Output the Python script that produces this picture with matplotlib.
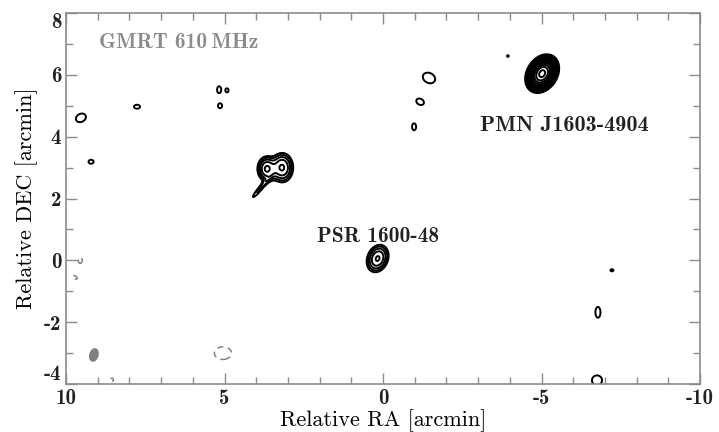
import numpy as np
import matplotlib
matplotlib.use("Agg")
import matplotlib.pyplot as plt
from matplotlib.patches import Ellipse

plt.rcParams['axes.unicode_minus'] = False

# --- Source model (RA, DEC in arcmin) ---
# positive components: ra, dec, peak (in rms units), sigma along pa, sigma across, pa (deg, on-sky display)
src_ra   = [-5.02, 0.17, 3.67, 3.18, 3.87, 9.53, 9.21, 7.76, 5.17, 4.92, 5.14, -1.45, -1.17, -0.98, -3.94, -7.22, -6.78, -6.75]
src_dec  = [6.04, 0.06, 2.96, 3.00, 2.33, 4.61, 3.19, 4.97, 5.52, 5.50, 5.00, 5.90, 5.13, 4.32, 6.61, -0.32, -1.68, -3.88]
src_amp  = [300, 16, 16, 16, 5, 4, 4, 4, 4, 4, 4, 4, 4, 4, 3.6, 4, 4, 4]
src_sa   = [0.22, 0.25, 0.16, 0.19, 0.36, 0.22, 0.105, 0.126, 0.084, 0.063, 0.084, 0.21, 0.126, 0.084, 0.045, 0.063, 0.105, 0.21]
src_sb   = [0.16, 0.18, 0.22, 0.26, 0.055, 0.17, 0.084, 0.084, 0.147, 0.084, 0.105, 0.27, 0.168, 0.147, 0.045, 0.045, 0.23, 0.21]
src_pa   = [60, 70, 0, 0, 51, 30, 0, 0, 0, 0, 0, 60, 60, 0, 0, 0, 0, 0]

# negative (dashed) components
neg_ra  = [9.55, 9.72, 5.05, 8.55]
neg_dec = [0.00, -0.55, -3.00, -3.86]
neg_amp = [-4, -4, -4, -3.6]
neg_sa  = [0.084, 0.063, 0.356, 0.08]
neg_sb  = [0.126, 0.105, 0.27, 0.08]
neg_pa  = [0, 60, 0, 0]

# restoring beam
beam_ra, beam_dec = 9.12, -3.06
beam_w, beam_h, beam_pa = 0.30, 0.45, 15

pos_levels = 3 * 1.5 ** np.arange(12)
neg_levels = [-3]

ra = np.arange(-10.4, 10.4, 0.012)
dec = np.arange(-4.4, 8.4, 0.012)
RA, DEC = np.meshgrid(ra, dec)


def add_gauss(img, r0, d0, amp, sa, sb, pa):
    u = -(RA - r0)          # display x (RA increases to the left)
    v = DEC - d0
    t = np.deg2rad(pa)
    p = u * np.cos(t) + v * np.sin(t)
    q = -u * np.sin(t) + v * np.cos(t)
    return img + amp * np.exp(-0.5 * ((p / sa) ** 2 + (q / sb) ** 2))


img = np.zeros_like(RA)
for i in range(len(src_ra)):
    img = add_gauss(img, src_ra[i], src_dec[i], src_amp[i], src_sa[i], src_sb[i], src_pa[i])
for i in range(len(neg_ra)):
    img = add_gauss(img, neg_ra[i], neg_dec[i], neg_amp[i], neg_sa[i], neg_sb[i], neg_pa[i])

fig = plt.figure(figsize=(7.19, 4.32), dpi=100)
ax = fig.add_axes([0.0918, 0.111, 0.8818, 0.8588])

ax.contour(RA, DEC, img, levels=pos_levels, colors='black', linewidths=1.4)
ax.contour(RA, DEC, img, levels=neg_levels, colors='#808080', linewidths=1.1,
           linestyles=[(0, (4, 3))])

ax.add_patch(Ellipse((beam_ra, beam_dec), beam_w, beam_h, angle=beam_pa,
                     facecolor='#808080', edgecolor='none'))

ax.set_xlim(10, -10)
ax.set_ylim(-3.95, 8.0)

# --- Labels ---
ax.text(8.96, 7.06, 'GMRT 610\u2009MHz', family=['cmb10', 'DejaVu Sans'], fontsize=15.5,
        color='#8c8c8c', ha='left', va='center')
ax.text(2.08, 0.77, 'PSR 1600-48', family='cmb10', fontsize=15.5, color='#222222',
        ha='left', va='center')
ax.text(-3.06, 4.35, 'PMN J1603-4904', family='cmb10', fontsize=16, color='#222222',
        ha='left', va='center')

ax.set_xlabel('Relative RA [arcmin]', family='cmr10', fontsize=16, labelpad=1)
ax.set_ylabel('Relative DEC [arcmin]', family='cmr10', fontsize=16, labelpad=4)

xt = [10, 5, 0, -5, -10]
yt = [-4, -2, 0, 2, 4, 6, 8]
ax.set_xticks(xt)
ax.set_xticklabels([str(v) for v in xt])
ax.set_xticks(np.arange(-10, 11, 1), minor=True)
ax.set_yticks(yt)
ax.set_yticklabels([str(v) for v in yt])
ax.set_yticks(np.arange(-4, 9, 1), minor=True)

for lbl in ax.get_xticklabels() + ax.get_yticklabels():
    lbl.set_family('cmb10')
    lbl.set_fontsize(15)
    lbl.set_color('#222222')
ax.get_yticklabels()[0].set_va('bottom')
ax.get_yticklabels()[-1].set_va('top')

ax.tick_params(which='both', direction='in', top=True, right=True, color='#8c8c8c', width=1)
ax.tick_params(which='major', length=8)
ax.tick_params(which='minor', length=5)
for s in ax.spines.values():
    s.set_color('#8c8c8c')
    s.set_linewidth(1.2)

fig.savefig('out.png', dpi=100)
